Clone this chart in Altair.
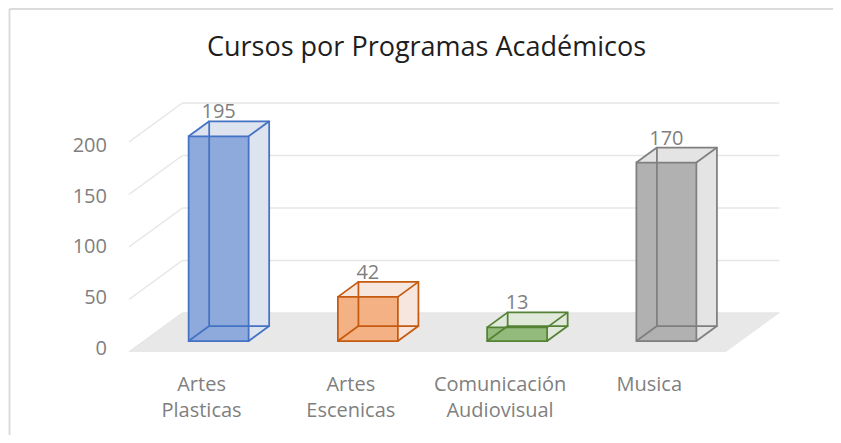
import altair as alt
import pandas as pd

# ---------------- data ----------------
categories = ["Artes Plasticas", "Artes Escenicas", "Comunicación Audiovisual", "Musica"]
category_labels = ["Artes\nPlasticas", "Artes\nEscenicas", "Comunicación\nAudiovisual", "Musica"]
values = [195, 42, 13, 170]
y_ticks = [0, 50, 100, 150, 200]
title_text = "Cursos por Programas Académicos"

# ---------------- styles ----------------
stroke_colors = ["#4472c4", "#c55a11", "#548235", "#7f7f7f"]
front_colors = ["#8eaadc", "#f4b183", "#93bb7b", "#b1b1b1"]
face_colors = ["#dde3ef", "#f6e6dd", "#e0e9da", "#e4e4e4"]
FONT = "Open Sans"
TEXT_GRAY = "#7f7f7f"

# ---------------- layout (pixels) ----------------
W, H = 597, 210
PAD = {"left": 136, "top": 123, "right": 92, "bottom": 94}
XMIN, XMAX = -0.5, 3.5
YMIN, YMAX = 0, 200
PX_X = W / (XMAX - XMIN)
PX_Y = H / (YMAX - YMIN)
SLANT = 1.37          # horizontal shift per pixel of depth
BAR_HALF = 30 / PX_X  # half bar width in x units
BAR_DEPTH = 15        # px
WALL_DEPTH = 28       # px behind bar front plane
FRONT_DEPTH = -11     # px (floor front edge / axis plane)


def shift(dpx):
    return dpx * SLANT / PX_X, dpx / PX_Y


xs = alt.Scale(domain=[XMIN, XMAX], nice=False, zero=False)
ys = alt.Scale(domain=[YMIN, YMAX], nice=False, zero=False)


def X(f):
    return alt.X(f"{f}:Q", scale=xs, axis=None)


def Y(f):
    return alt.Y(f"{f}:Q", scale=ys, axis=None, stack=False)


bdx, bdy = shift(BAR_DEPTH)
wdx, wdy = shift(WALL_DEPTH)
fdx, fdy = shift(FRONT_DEPTH)

# bars
rows = []
for i, (c, v) in enumerate(zip(categories, values)):
    rows.append(dict(cat=c, idx=i, value=v, stroke=stroke_colors[i], front=front_colors[i],
                     face=face_colors[i], x0=i - BAR_HALF, x1=i + BAR_HALF,
                     bx0=i - BAR_HALF + bdx, bx1=i + BAR_HALF + bdx,
                     by0=bdy, by1=v + bdy, base=0, lab_y=v + bdy + 3 / PX_Y,
                     lab=str(v)))
bars = pd.DataFrame(rows)

side_rows, top_rows, edge_rows = [], [], []
for r in rows:
    side_rows.append(dict(cat=r["cat"], face=r["face"], x=r["x1"], y=0, y2=r["value"]))
    side_rows.append(dict(cat=r["cat"], face=r["face"], x=r["bx1"], y=r["by0"], y2=r["by1"]))
    top_rows.append(dict(cat=r["cat"], face=r["face"], y=r["value"], x=r["x0"], x2=r["x1"]))
    top_rows.append(dict(cat=r["cat"], face=r["face"], y=r["by1"], x=r["bx0"], x2=r["bx1"]))
    for xx in (r["x0"], r["x1"]):
        for yy in (0, r["value"]):
            edge_rows.append(dict(cat=r["cat"], stroke=r["stroke"], x=xx, y=yy,
                                  x2=xx + bdx, y2=yy + bdy))
sides = pd.DataFrame(side_rows)
tops = pd.DataFrame(top_rows)
edges = pd.DataFrame(edge_rows)

# floor and grid
floor = pd.DataFrame([
    dict(y=fdy, x=XMIN + fdx, x2=XMAX + fdx),
    dict(y=wdy, x=XMIN + wdx, x2=XMAX + wdx),
])
grid = pd.DataFrame([dict(t=t, y=t + wdy, x=XMIN + wdx, x2=XMAX + wdx,
                          fx=XMIN + fdx, fy=t + fdy) for t in y_ticks])

# axis labels
ylab = pd.DataFrame([dict(lab=str(t), x=XMIN - 37 / PX_X,
                          y=(-7.5 + 1.0125 * t) / PX_Y) for t in y_ticks])
xlab = pd.DataFrame([dict(lab=category_labels[i], x=i + fdx - 2 / PX_X,
                          y=-50 / PX_Y) for i in range(len(categories))])
title_df = pd.DataFrame([dict(lab=title_text, x=(XMIN + XMAX) / 2,
                              y=YMAX + 75 / PX_Y)])

# ---------------- layers ----------------
floor_l = alt.Chart(floor).mark_area(orient="horizontal", color="#e8e8e8").encode(
    y=Y("y"), x=X("x"), x2=alt.X2("x2"))
grid_h = alt.Chart(grid).mark_rule(color="#e6e6e6", strokeWidth=1.5).encode(
    x=X("x"), x2=alt.X2("x2"), y=Y("y"))
grid_d = alt.Chart(grid).mark_rule(color="#e6e6e6", strokeWidth=1.5).encode(
    x=X("fx"), y=Y("fy"), x2=alt.X2("x"), y2=alt.Y2("y"))

back_fill = alt.Chart(bars).mark_rect().encode(
    x=X("bx0"), x2=alt.X2("bx1"), y=Y("by0"), y2=alt.Y2("by1"),
    fill=alt.Fill("face:N", scale=None))
side_fill = alt.Chart(sides).mark_area(orient="vertical").encode(
    x=X("x"), y=Y("y"), y2=alt.Y2("y2"), fill=alt.Fill("face:N", scale=None),
    detail="cat:N")
top_fill = alt.Chart(tops).mark_area(orient="horizontal").encode(
    y=Y("y"), x=X("x"), x2=alt.X2("x2"), fill=alt.Fill("face:N", scale=None),
    detail="cat:N")
front_fill = alt.Chart(bars).mark_rect().encode(
    x=X("x0"), x2=alt.X2("x1"), y=Y("base"), y2=alt.Y2("value"),
    fill=alt.Fill("front:N", scale=None))

back_edge = alt.Chart(bars).mark_rect(fillOpacity=0, strokeWidth=1.75).encode(
    x=X("bx0"), x2=alt.X2("bx1"), y=Y("by0"), y2=alt.Y2("by1"),
    stroke=alt.Stroke("stroke:N", scale=None))
conn_edge = alt.Chart(edges).mark_rule(strokeWidth=1.75).encode(
    x=X("x"), y=Y("y"), x2=alt.X2("x2"), y2=alt.Y2("y2"),
    color=alt.Color("stroke:N", scale=None))
front_edge = alt.Chart(bars).mark_rect(fillOpacity=0, strokeWidth=1.75).encode(
    x=X("x0"), x2=alt.X2("x1"), y=Y("base"), y2=alt.Y2("value"),
    stroke=alt.Stroke("stroke:N", scale=None))

data_lab = alt.Chart(bars).mark_text(font=FONT, fontSize=20, color=TEXT_GRAY,
                                     baseline="alphabetic", align="center").encode(
    x=X("idx"), y=Y("lab_y"), text="lab:N")
y_lab = alt.Chart(ylab).mark_text(font=FONT, fontSize=20, color=TEXT_GRAY,
                                  baseline="middle", align="right").encode(
    x=X("x"), y=Y("y"), text="lab:N")
x_lab = alt.Chart(xlab).mark_text(font=FONT, fontSize=20, color=TEXT_GRAY,
                                  baseline="alphabetic", align="center",
                                  lineBreak="\n", lineHeight=26).encode(
    x=X("x"), y=Y("y"), text="lab:N")
title_l = alt.Chart(title_df).mark_text(font=FONT, fontSize=27, color="#1e1e1e",
                                        baseline="alphabetic", align="center",
                                        dx=-16).encode(
    x=X("x"), y=Y("y"), text="lab:N")

border_v = alt.Chart(floor).mark_rule(color="#d9d9d9", strokeWidth=1.5).encode(
    x=alt.value(-PAD["left"] + 1.5), y=alt.value(-PAD["top"] + 1),
    y2=alt.value(H + PAD["bottom"] + 5))
border_h = alt.Chart(floor).mark_rule(color="#d9d9d9", strokeWidth=1.5).encode(
    y=alt.value(-PAD["top"] + 1), x=alt.value(-PAD["left"] + 1.5),
    x2=alt.value(W + PAD["right"] + 5))

chart = alt.layer(
    floor_l, grid_h, grid_d, back_fill, side_fill, top_fill, front_fill,
    back_edge, conn_edge, front_edge, data_lab, y_lab, x_lab, title_l,
    border_v, border_h,
).properties(
    width=W, height=H,
    autosize=alt.AutoSizeParams(type="none"),
    padding=PAD,
).configure_view(stroke="transparent")

chart.save("out.html", embed_options={"renderer": "svg", "actions": False})
